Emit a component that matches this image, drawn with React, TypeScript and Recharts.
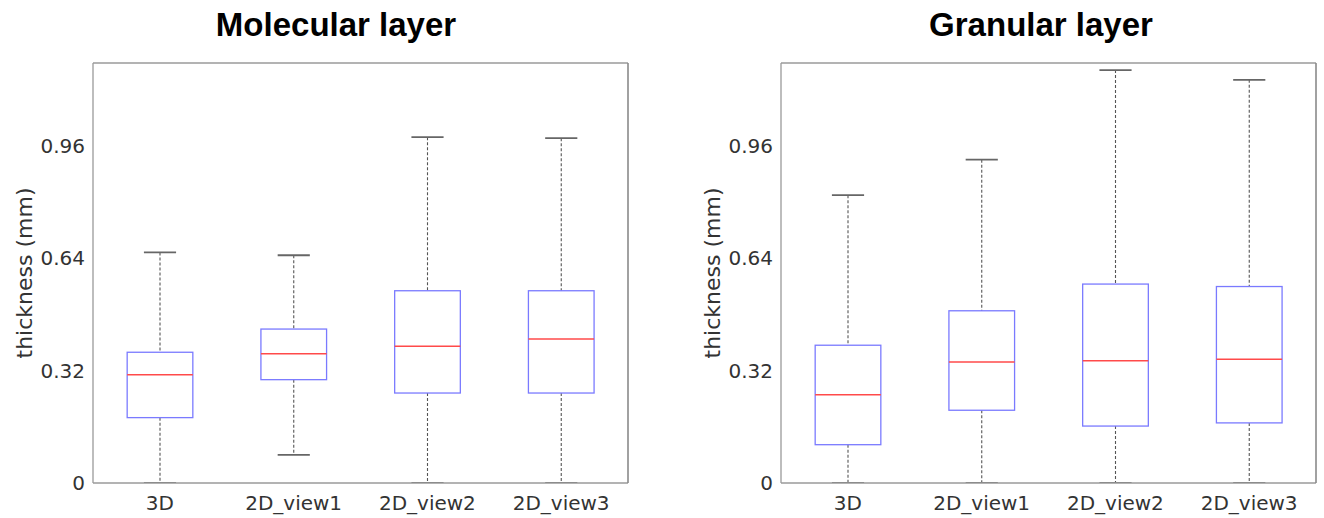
import React from 'react';
import { ComposedChart, Bar, XAxis, YAxis } from 'recharts';

const categories = ['3D', '2D_view1', '2D_view2', '2D_view3'];
const yTicks = [0, 0.32, 0.64, 0.96];

const molLower = [0, 0.08, 0, 0];
const molQ1 = [0.186, 0.294, 0.256, 0.256];
const molMedian = [0.308, 0.368, 0.389, 0.41];
const molQ3 = [0.372, 0.438, 0.547, 0.547];
const molUpper = [0.656, 0.648, 0.984, 0.981];

const graLower = [0, 0, 0, 0];
const graQ1 = [0.109, 0.207, 0.162, 0.171];
const graMedian = [0.251, 0.344, 0.348, 0.352];
const graQ3 = [0.392, 0.49, 0.566, 0.559];
const graUpper = [0.819, 0.92, 1.175, 1.147];

const build = (lo: number[], q1: number[], med: number[], q3: number[], hi: number[]) =>
  categories.map((name, i) => ({ name, lower: lo[i], q1: q1[i], median: med[i], q3: q3[i], upper: hi[i] }));

const molData = build(molLower, molQ1, molMedian, molQ3, molUpper);
const graData = build(graLower, graQ1, graMedian, graQ3, graUpper);

const FRAME = '#9a9a9a';
const TEXT = '#333333';

const BoxShape = (props: any) => {
  const { x, y, width, height, payload } = props;
  if (!payload) return null;
  const { lower, q1, median, q3, upper } = payload;
  const span = upper - lower;
  const py = (v: number) => y + (height * (upper - v)) / span;
  const cx = x + width / 2;
  const bw = width * 0.49;
  const cw = width * 0.24;
  return (
    <g>
      <line x1={cx} x2={cx} y1={py(upper)} y2={py(q3)} stroke="#555" strokeWidth={1.1} strokeDasharray="3 2" />
      <line x1={cx} x2={cx} y1={py(q1)} y2={py(lower)} stroke="#555" strokeWidth={1.1} strokeDasharray="3 2" />
      <line x1={cx - cw / 2} x2={cx + cw / 2} y1={py(upper)} y2={py(upper)} stroke="#666" strokeWidth={1.8} />
      <line x1={cx - cw / 2} x2={cx + cw / 2} y1={py(lower)} y2={py(lower)} stroke="#666" strokeWidth={1.8} />
      <rect x={cx - bw / 2} y={py(q3)} width={bw} height={py(q1) - py(q3)} fill="none" stroke="#7a7aff" strokeWidth={1.3} />
      <line x1={cx - bw / 2} x2={cx + bw / 2} y1={py(median)} y2={py(median)} stroke="#ff4a4a" strokeWidth={1.5} />
    </g>
  );
};

const Panel = ({ data }: { data: any[] }) => (
  <ComposedChart
    width={640}
    height={518}
    data={data}
    margin={{ top: 63, right: 12, left: 13, bottom: 5 }}
    barCategoryGap="0%"
  >
    <XAxis
      dataKey="name"
      interval={0}
      height={30}
      tickSize={0}
      tickMargin={13}
      tickLine={false}
      axisLine={{ stroke: FRAME, strokeWidth: 1.3 }}
      tick={{ fill: TEXT, fontSize: 20, fontFamily: 'DejaVu Sans' }}
    />
    <XAxis xAxisId="bi" dataKey="name" interval={0} mirror axisLine={false} tick={false} tickSize={4} tickLine={{ stroke: FRAME }} />
    <XAxis xAxisId="top" orientation="top" dataKey="name" interval={0} mirror axisLine={{ stroke: FRAME, strokeWidth: 1.3 }} tick={false} tickSize={4} tickLine={{ stroke: FRAME }} />
    <YAxis
      type="number"
      domain={[0, 1.195]}
      ticks={yTicks}
      interval={0}
      allowDataOverflow
      width={80}
      tickSize={0}
      tickMargin={8}
      tickLine={false}
      axisLine={{ stroke: FRAME, strokeWidth: 1.3 }}
      tick={{ fill: TEXT, fontSize: 20, fontFamily: 'DejaVu Sans' }}
      label={{
        value: 'thickness (mm)',
        angle: -90,
        position: 'insideLeft',
        offset: 11,
        style: { textAnchor: 'middle', fill: TEXT, fontSize: 22, fontFamily: 'DejaVu Sans' },
      }}
    />
    <YAxis yAxisId="li" type="number" domain={[0, 1.195]} ticks={yTicks} interval={0} allowDataOverflow mirror axisLine={false} tick={false} tickSize={4} tickLine={{ stroke: FRAME }} />
    <YAxis yAxisId="r" orientation="right" type="number" domain={[0, 1.195]} ticks={yTicks} interval={0} allowDataOverflow mirror axisLine={{ stroke: '#8a8a8a', strokeWidth: 1.6 }} tick={false} tickSize={4} tickLine={{ stroke: FRAME }} />
    <Bar dataKey={(d: any) => [d.lower, d.upper]} shape={BoxShape} isAnimationActive={false} />
  </ComposedChart>
);

const titleStyle: React.CSSProperties = {
  position: 'absolute',
  top: 5,
  width: 400,
  textAlign: 'center',
  fontFamily: 'Liberation Sans, Arial, sans-serif',
  fontWeight: 'bold',
  fontSize: 33,
  lineHeight: '40px',
  color: '#000',
};

export default function App() {
  return (
    <div style={{ position: 'absolute', left: 0, top: 0, width: 1324, height: 518, background: '#fff', overflow: 'hidden' }}>
      <div style={{ position: 'absolute', left: 0, top: 0 }}>
        <Panel data={molData} />
      </div>
      <div style={{ position: 'absolute', left: 687.5, top: 0 }}>
        <Panel data={graData} />
      </div>
      <div style={{ ...titleStyle, left: 336 - 200 }}>Molecular layer</div>
      <div style={{ ...titleStyle, left: 1041 - 200 }}>Granular layer</div>
    </div>
  );
}
